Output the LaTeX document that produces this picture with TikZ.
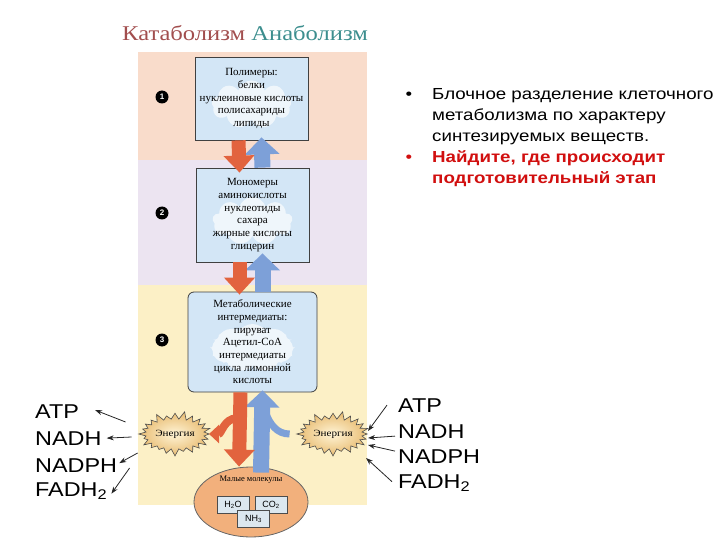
\documentclass[tikz,border=0pt]{standalone}
\usepackage{fontspec}
\setmainfont{Liberation Serif}
\setsansfont{Liberation Sans}
\newfontfamily\wideserif{Liberation Serif}[FakeStretch=1.17]
\newfontfamily\widesans{Liberation Sans}[FakeStretch=1.17]
\usetikzlibrary{arrows.meta,shapes.symbols,shapes.geometric}
\definecolor{KatRed}{HTML}{A24E4E}
\definecolor{AnaTeal}{HTML}{3C8E8E}
\definecolor{BandPink}{HTML}{F9DCCB}
\definecolor{BandLilac}{HTML}{ECE4F1}
\definecolor{BandYellow}{HTML}{FCF0C6}
\definecolor{BoxBlue}{HTML}{D3E6F6}
\definecolor{ArrRed}{HTML}{E2633E}
\definecolor{ArrBlue}{HTML}{7DA0D8}
\definecolor{SunIn}{HTML}{FFF4D6}
\definecolor{SunOut}{HTML}{E8BC72}
\definecolor{MolOrange}{HTML}{F2B07C}
\definecolor{MolBox}{HTML}{DCE7EF}
\definecolor{AskRed}{HTML}{D10F0F}

\tikzset{
  stagebox/.style={draw=black!75, line width=0.8pt, fill=BoxBlue, align=center,
    font=\fontsize{11}{12.7}\selectfont, inner sep=2pt,
    path picture={\node[cloud, cloud puffs=9, fill=white, opacity=0.65, minimum width=80pt, minimum height=48pt]
      at ([yshift=-6pt]path picture bounding box.center) {};}},
  stagenum/.style={circle, fill=black, text=white, inner sep=0pt, minimum size=13pt,
    font=\fontsize{8}{8}\sffamily\bfseries},
  sun/.style={starburst, starburst points=24, starburst point height=8pt, inner color=SunIn,
    outer color=SunOut, draw=black!70, line width=0.6pt, minimum width=66pt, minimum height=46pt,
    inner sep=1pt, font=\fontsize{9.5}{9.5}\wideserif},
  carrier/.style={font=\fontsize{20}{20}\widesans, inner sep=0pt},
  asktext/.style={font=\fontsize{16}{16}\widesans, inner sep=0pt},
  thinarr/.style={draw=black!85, line width=0.8pt, -{Stealth[length=7pt,width=5pt]}},
  catflow/.style={draw=ArrRed, line width=14pt, -{Triangle[length=17pt,width=30pt]}},
  anaflow/.style={draw=ArrBlue, line width=16pt, -{Triangle[length=17pt,width=34pt]}},
  catbranch/.style={draw=ArrRed, line width=8pt, -{Triangle[length=10pt,width=18pt]}},
  anabranch/.style={draw=ArrBlue, line width=7pt},
  molbox/.style={draw=black!70, fill=MolBox, font=\fontsize{9}{9}\sffamily,
    minimum width=32pt, minimum height=17pt, inner sep=1pt},
}

\begin{document}
\begin{tikzpicture}[x=1pt,y=-1pt]
\path[use as bounding box] (0,0) rectangle (720,540);
% bands
\fill[BandPink] (138,52) rectangle (367,160);
\fill[BandLilac] (138,160) rectangle (367,285);
\fill[BandYellow] (138,285) rectangle (367,505);
% title
\node[anchor=base west, inner sep=0pt, font=\fontsize{21}{21}\wideserif] (title) at (122,41)
  {\textcolor{KatRed}{Катаболизм} \textcolor{AnaTeal}{Анаболизм}};

% stage boxes
\node[stagebox, minimum width=113pt, minimum height=83pt] (poly) at (251.5,98.5)
  {Полимеры:\\белки\\нуклеиновые кислоты\\полисахариды\\липиды};
\node[stagebox, minimum width=113pt, minimum height=94pt] (mono) at (252.5,215)
  {Мономеры\\аминокислоты\\нуклеотиды\\сахара\\жирные кислоты\\глицерин};
\node[stagebox, rounded corners=6pt, minimum width=129pt, minimum height=100pt] (meta) at (252.5,342)
  {Метаболические\\интермедиаты:\\пируват\\Ацетил-CoA\\интермедиаты\\цикла лимонной\\кислоты};

\node[stagenum] (n1) at (162,97) {1};
\node[stagenum] (n2) at (162,213) {2};
\node[stagenum] (n3) at (162,340) {3};

% arrows between stages
\draw[anaflow] ([xshift=10pt]mono.north) -- ([xshift=10pt,yshift=3pt]poly.south);
\draw[catflow] ([xshift=-13pt]poly.south) -- ([xshift=-13pt,yshift=-5pt]mono.north);
\draw[anaflow] ([xshift=10pt]meta.north) -- ([xshift=10pt,yshift=9pt]mono.south);
\draw[catflow] ([xshift=-13pt]mono.south) -- ([xshift=-13pt,yshift=-3pt]meta.north);

% small molecules
\node[ellipse, fill=MolOrange, draw=black!60, line width=0.8pt, minimum width=114pt, minimum height=70pt] (small) at (251,502) {};
\node[inner sep=0pt, font=\fontsize{8.5}{8.5}\selectfont] (smallTxt) at (251,480) {Малые молекулы};
\node[molbox] (water) at (233,504.5) {H\textsubscript{2}O};
\node[molbox] (carbon) at (271,504.5) {CO\textsubscript{2}};
\node[molbox] (ammonia) at (253.5,518.5) {NH\textsubscript{3}};

% energy
\node[sun] (enL) at (175,434) {Энергия};
\node[sun] (enR) at (333,434) {Энергия};

\draw[anaflow] ([xshift=10pt,yshift=-6pt]small.north) -- ([xshift=10pt,yshift=2pt]meta.south);
\draw[anabranch] ([xshift=-6pt]enR.west) to[out=180,in=-70] ([xshift=13pt,yshift=-20pt]meta.south);
\draw[catflow] ([xshift=-12pt]meta.south) -- ([xshift=-12pt]small.north);
\draw[catbranch] ([xshift=-16pt,yshift=-26pt]meta.south) to[out=180,in=0] ([xshift=-1pt]enL.east);

% carriers, left
\node[carrier, anchor=base west] (atpL) at (35,418) {ATP};
\node[carrier, anchor=base west] (nadhL) at (35,445) {NADH};
\node[carrier, anchor=base west] (nadphL) at (35,472) {NADPH};
\node[carrier, anchor=base west] (fadhL) at (35,496) {FADH\textsubscript{2}};
\draw[thinarr] ([xshift=-12pt,yshift=12pt]enL.west) -- ([xshift=16pt,yshift=1pt]atpL.east);
\draw[thinarr] ([xshift=-6pt,yshift=-3pt]enL.west) -- ([xshift=5pt]nadhL.east);
\draw[thinarr] ([xshift=0pt,yshift=-19pt]enL.west) -- ([xshift=2pt,yshift=2pt]nadphL.east);
\draw[thinarr] ([xshift=-8pt,yshift=-34pt]enL.west) -- ([xshift=4pt,yshift=-3pt]fadhL.east);

% carriers, right
\node[carrier, anchor=base west] (atpR) at (398,412) {ATP};
\node[carrier, anchor=base west] (nadhR) at (398,438) {NADH};
\node[carrier, anchor=base west] (nadphR) at (398,463) {NADPH};
\node[carrier, anchor=base west] (fadhR) at (398,488) {FADH\textsubscript{2}};
\draw[thinarr] ([xshift=-11pt]atpR.west) -- ([yshift=3pt]enR.east);
\draw[thinarr] ([xshift=-3pt,yshift=-5pt]nadhR.west) -- ([yshift=-4pt]enR.east);
\draw[thinarr] ([xshift=-3pt,yshift=5pt]nadphR.west) -- ([yshift=-11pt]enR.east);
\draw[thinarr] ([xshift=-6pt,yshift=1pt]fadhR.west) -- ([xshift=-2pt,yshift=-24pt]enR.east);

% text on the right
\node[asktext, anchor=base] (dot1) at (409,100) {•};
\node[asktext, anchor=base west] (line1) at (432,100) {Блочное разделение клеточного};
\node[asktext, anchor=base west] (line2) at (432,121) {метаболизма по характеру};
\node[asktext, anchor=base west] (line3) at (432,142) {синтезируемых веществ.};
\node[asktext, anchor=base, text=AskRed] (dot2) at (409,163) {•};
\node[asktext, anchor=base west, text=AskRed, font=\fontsize{16}{16}\widesans\bfseries] (line4) at (432,163) {Найдите, где происходит};
\node[asktext, anchor=base west, text=AskRed, font=\fontsize{16}{16}\widesans\bfseries] (line5) at (432,184) {подготовительный этап};
\end{tikzpicture}
\end{document}
